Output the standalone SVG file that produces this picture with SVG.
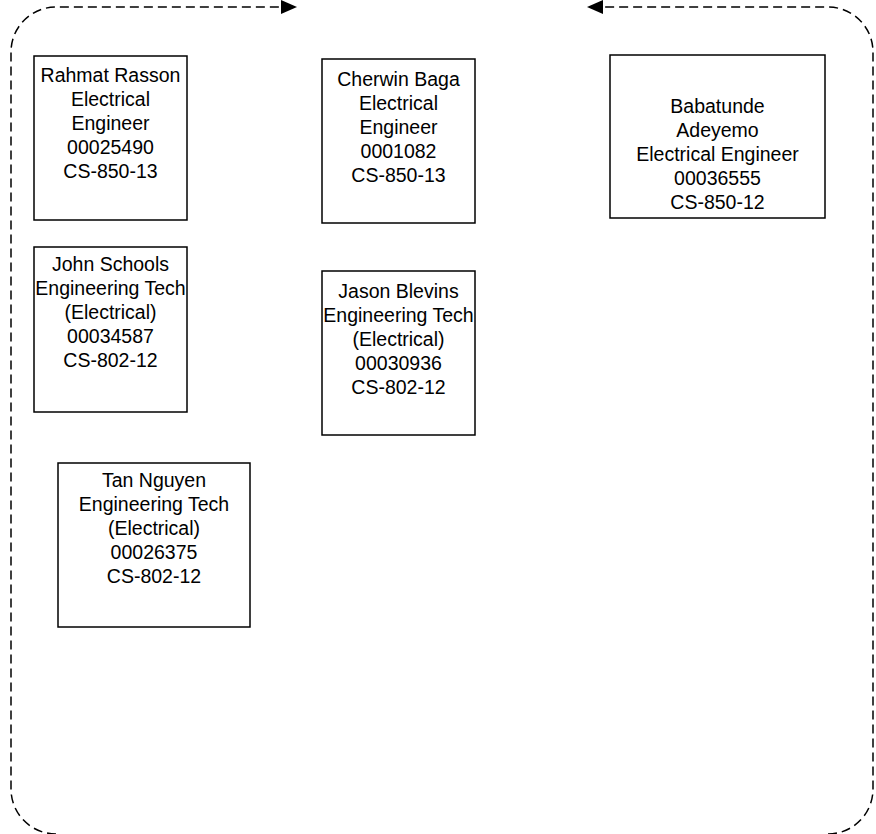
<svg xmlns="http://www.w3.org/2000/svg" width="876" height="834" viewBox="0 0 876 834">
<style>
.box{fill:#fff;stroke:#000;stroke-width:1.5}
.t{font-family:"Liberation Sans",Arial,sans-serif;font-size:19.5px;fill:#000;text-anchor:middle}
.conn{fill:none;stroke:#000;stroke-width:1.5;stroke-dasharray:9 5}
</style>
<defs>
<marker id="arr" viewBox="0 0 16 14" refX="16" refY="7" markerWidth="16" markerHeight="14" markerUnits="userSpaceOnUse" orient="auto">
<path d="M0,0 L16,7 L0,14 Z" fill="#000"/>
</marker>
</defs>
<rect width="876" height="834" fill="#fff"/>
<g id="connectors">
<path class="conn" d="M56,834 A45,45 0 0 1 11,789 L11,52 A45,45 0 0 1 56,7 L297,7" marker-end="url(#arr)"/>
<path class="conn" d="M828,834 A45,45 0 0 0 873,789 L873,52 A45,45 0 0 0 828,7 L587,7" marker-end="url(#arr)"/>
</g>
<g id="rahmat">
<rect class="box" x="34" y="56" width="153" height="164"/>
<text class="t" x="110.5" y="82">Rahmat Rasson</text>
<text class="t" x="110.5" y="106">Electrical</text>
<text class="t" x="110.5" y="130">Engineer</text>
<text class="t" x="110.5" y="154">00025490</text>
<text class="t" x="110.5" y="178">CS-850-13</text>
</g>
<g id="cherwin">
<rect class="box" x="322" y="59" width="153" height="164"/>
<text class="t" x="398.5" y="86">Cherwin Baga</text>
<text class="t" x="398.5" y="110">Electrical</text>
<text class="t" x="398.5" y="134">Engineer</text>
<text class="t" x="398.5" y="158">0001082</text>
<text class="t" x="398.5" y="182">CS-850-13</text>
</g>
<g id="babatunde">
<rect class="box" x="610" y="55" width="215" height="163"/>
<text class="t" x="717.5" y="113">Babatunde</text>
<text class="t" x="717.5" y="137">Adeyemo</text>
<text class="t" x="717.5" y="161">Electrical Engineer</text>
<text class="t" x="717.5" y="185">00036555</text>
<text class="t" x="717.5" y="209">CS-850-12</text>
</g>
<g id="john">
<rect class="box" x="34" y="247" width="153" height="165"/>
<text class="t" x="110.5" y="271">John Schools</text>
<text class="t" x="110.5" y="295">Engineering Tech</text>
<text class="t" x="110.5" y="319">(Electrical)</text>
<text class="t" x="110.5" y="343">00034587</text>
<text class="t" x="110.5" y="367">CS-802-12</text>
</g>
<g id="jason">
<rect class="box" x="322" y="271" width="153" height="164"/>
<text class="t" x="398.5" y="298">Jason Blevins</text>
<text class="t" x="398.5" y="322">Engineering Tech</text>
<text class="t" x="398.5" y="346">(Electrical)</text>
<text class="t" x="398.5" y="370">00030936</text>
<text class="t" x="398.5" y="394">CS-802-12</text>
</g>
<g id="tan">
<rect class="box" x="58" y="463" width="192" height="164"/>
<text class="t" x="154" y="487">Tan Nguyen</text>
<text class="t" x="154" y="511">Engineering Tech</text>
<text class="t" x="154" y="535">(Electrical)</text>
<text class="t" x="154" y="559">00026375</text>
<text class="t" x="154" y="583">CS-802-12</text>
</g>
</svg>
